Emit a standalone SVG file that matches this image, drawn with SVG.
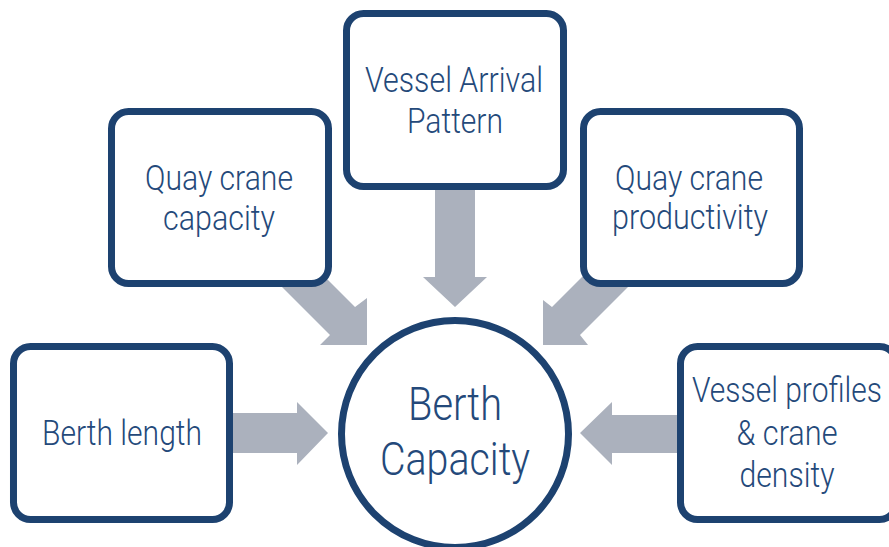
<svg xmlns="http://www.w3.org/2000/svg" width="889" height="547" viewBox="0 0 889 547">
<style>
.box{fill:#ffffff;stroke:#1d4270;stroke-width:7}
.arr{fill:#abb1bd}
.t{font-family:Roboto,"Liberation Sans",sans-serif;font-size:35px;font-weight:300;fill:#24497a;text-anchor:middle}
.c{font-size:46px}
</style>
<rect width="889" height="547" fill="#ffffff"/>
<g id="connectors">
<polygon class="arr" points="225,413 297,413 297,402 328,433 297,465 297,453 225,453"/>
<polygon class="arr" points="435,180 475,180 475,277 487,277 455,307 423,277 435,277"/>
<polygon class="arr" points="690,415 612,415 612,402 580,433 612,465 612,453 690,453"/>
<polygon class="arr" points="275,227 355,307 367,298 367,345 320,345 330,335 250,255"/>
<polygon class="arr" points="632,227 552,307 543,300 543,345 588,345 580,335 660,255"/>
</g>
<g id="berth-length">
<rect class="box" x="13.5" y="346.5" width="216" height="173" rx="17"/>
<text class="t" x="122" y="445" textLength="160" lengthAdjust="spacingAndGlyphs">Berth length</text>
</g>
<g id="quay-crane-capacity">
<rect class="box" x="111.5" y="111.5" width="217" height="172" rx="17"/>
<text class="t" x="219" y="190" textLength="148" lengthAdjust="spacingAndGlyphs">Quay crane</text>
<text class="t" x="219" y="230" textLength="112" lengthAdjust="spacingAndGlyphs">capacity</text>
</g>
<g id="vessel-arrival-pattern">
<rect class="box" x="346.5" y="13.5" width="217" height="173" rx="17"/>
<text class="t" x="454" y="92" textLength="178" lengthAdjust="spacingAndGlyphs">Vessel Arrival</text>
<text class="t" x="455" y="133" textLength="96" lengthAdjust="spacingAndGlyphs">Pattern</text>
</g>
<g id="quay-crane-productivity">
<rect class="box" x="583.5" y="111.5" width="216" height="172" rx="17"/>
<text class="t" x="689" y="190" textLength="148" lengthAdjust="spacingAndGlyphs">Quay crane</text>
<text class="t" x="690" y="229" textLength="156" lengthAdjust="spacingAndGlyphs">productivity</text>
</g>
<g id="vessel-profiles">
<rect class="box" x="680.5" y="346.5" width="216" height="173" rx="17"/>
<text class="t" x="787" y="402" textLength="190" lengthAdjust="spacingAndGlyphs">Vessel profiles</text>
<text class="t" x="787" y="445" textLength="101" lengthAdjust="spacingAndGlyphs">&amp; crane</text>
<text class="t" x="787" y="487" textLength="95" lengthAdjust="spacingAndGlyphs">density</text>
</g>
<g id="berth-capacity">
<circle class="box" cx="455" cy="434" r="113.5"/>
<text class="t c" x="455" y="420" textLength="94" lengthAdjust="spacingAndGlyphs">Berth</text>
<text class="t c" x="455" y="475" textLength="150" lengthAdjust="spacingAndGlyphs">Capacity</text>
</g>
</svg>
